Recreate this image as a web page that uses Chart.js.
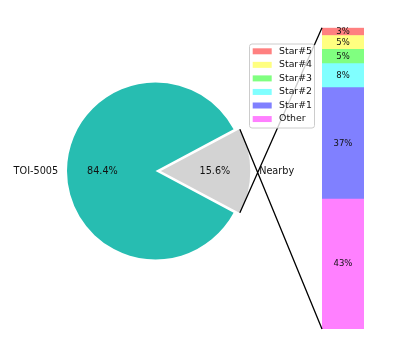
<!DOCTYPE html>
<html>
<head>
<meta charset="utf-8">
<script src="https://cdn.jsdelivr.net/npm/chart.js@4/dist/chart.umd.min.js"></script>
<style>
html,body{margin:0;padding:0;background:#fff;}
#wrap{position:relative;width:407px;height:343px;}
#wrap canvas{position:absolute;left:0;top:0;}
</style>
</head>
<body>
<div id="wrap">
  <canvas id="pie_chart" width="407" height="343"></canvas>
  <canvas id="bar_chart" width="407" height="343"></canvas>
</div>
<script>
// pie: the two slices
const pieLabels = ['TOI-5005', 'Nearby'];
const pieValues = [84.4, 15.6];
const pieColors = ['#27bdb1', '#d3d3d3'];

// bar: breakdown of the "Nearby" slice, bottom to top
const starLabels = ['Other', 'Star#1', 'Star#2', 'Star#3', 'Star#4', 'Star#5'];
const starValues = [43.1, 37.0, 8.0, 4.7, 4.6, 2.6];
const starColors = ['#ff80ff', '#8080ff', '#80ffff', '#80ff80', '#ffff80', '#ff8080'];

const FONT = "'DejaVu Sans', sans-serif";
let pie_chart = false;
let bar_chart = false;

// same shift that ArcElement applies for its offset
const arcShift = (arc) => {
  const circ = arc.endAngle - arc.startAngle;
  const off = (arc.options.offset || 0) / 4;
  return off * (2 - Math.sin(Math.min(Math.PI, circ)));
};

const pieLabelPlugin = {
  id: 'pieLabels',
  afterDatasetsDraw(chart) {
    const ctx = chart.ctx;
    const arcs = chart.getDatasetMeta(0).data;
    ctx.save();
    ctx.fillStyle = '#111';
    ctx.font = '9.7px ' + FONT;
    ctx.textBaseline = 'middle';
    arcs.forEach((arc, i) => {
      const p = arc.getProps(['x', 'y', 'startAngle', 'endAngle', 'outerRadius'], true);
      const mid = (p.startAngle + p.endAngle) / 2;
      const s = arcShift(arc);
      const cx = p.x + Math.cos(mid) * s;
      const cy = p.y + Math.sin(mid) * s;
      const r = p.outerRadius;
      ctx.textAlign = 'center';
      ctx.fillText(pieValues[i].toFixed(1) + '%', cx + Math.cos(mid) * r * 0.6, cy + Math.sin(mid) * r * 0.6);
      ctx.textAlign = Math.cos(mid) >= 0 ? 'left' : 'right';
      ctx.fillText(pieLabels[i], cx + Math.cos(mid) * r * 1.1, cy + Math.sin(mid) * r * 1.1);
    });
    ctx.restore();
  }
};

const barLabelPlugin = {
  id: 'barLabels',
  afterDatasetsDraw(chart) {
    const ctx = chart.ctx;
    ctx.save();
    ctx.fillStyle = '#111';
    ctx.font = '8.5px ' + FONT;
    ctx.textAlign = 'center';
    ctx.textBaseline = 'middle';
    chart.data.datasets.forEach((ds, i) => {
      const el = chart.getDatasetMeta(i).data[0];
      const p = el.getProps(['x', 'y', 'base'], true);
      ctx.fillText(Math.round(ds.data[0]) + '%', p.x, (p.y + p.base) / 2);
    });
    ctx.restore();
  }
};

// lines from the exploded slice to the bar, then the legend over them
const connectPlugin = {
  id: 'connect',
  afterDraw(chart) {
    const ctx = chart.ctx;
    const arc = pie_chart.getDatasetMeta(0).data[1];
    const a = arc.getProps(['x', 'y', 'startAngle', 'endAngle', 'outerRadius'], true);
    const mid = (a.startAngle + a.endAngle) / 2;
    const s = arcShift(arc);
    const cx = a.x + Math.cos(mid) * s;
    const cy = a.y + Math.sin(mid) * s;
    const r = a.outerRadius;
    const n = chart.data.datasets.length;
    const topEl = chart.getDatasetMeta(n - 1).data[0].getProps(['x', 'y', 'width'], true);
    const botEl = chart.getDatasetMeta(0).data[0].getProps(['x', 'base', 'width'], true);

    ctx.save();
    ctx.strokeStyle = '#000';
    ctx.lineWidth = 1.3;
    ctx.beginPath();
    ctx.moveTo(cx + Math.cos(a.startAngle) * r, cy + Math.sin(a.startAngle) * r);
    ctx.lineTo(botEl.x - botEl.width / 2, botEl.base);
    ctx.moveTo(cx + Math.cos(a.endAngle) * r, cy + Math.sin(a.endAngle) * r);
    ctx.lineTo(topEl.x - topEl.width / 2, topEl.y);
    ctx.stroke();

    // legend
    const bx = 249.5, by = 44, bw = 65, bh = 84;
    ctx.beginPath();
    ctx.roundRect(bx, by, bw, bh, 2.5);
    ctx.fillStyle = 'rgba(255,255,255,0.8)';
    ctx.fill();
    ctx.lineWidth = 1;
    ctx.strokeStyle = '#cccccc';
    ctx.stroke();
    ctx.font = '9.4px ' + FONT;
    ctx.textAlign = 'left';
    ctx.textBaseline = 'middle';
    for (let k = 0; k < n; k++) {
      const i = n - 1 - k;
      const ry = 51.3 + k * 13.55;
      ctx.fillStyle = starColors[i];
      ctx.fillRect(252.7, ry - 3, 19, 6);
      ctx.fillStyle = '#111';
      ctx.fillText(starLabels[i], 279, ry);
    }
    ctx.restore();
  }
};

const createPieChart = () => {
  const ctx = document.getElementById('pie_chart').getContext('2d');
  const nearbyFrac = pieValues[1] / (pieValues[0] + pieValues[1]);
  pie_chart = new Chart(ctx, {
    type: 'pie',
    data: {
      labels: pieLabels,
      datasets: [{
        data: pieValues,
        backgroundColor: pieColors,
        borderWidth: 0,
        offset: [0, 21.5],
        radius: 88.5,
        rotation: 90 + 180 * nearbyFrac
      }]
    },
    options: {
      responsive: false,
      animation: false,
      layout: {padding: {left: 55.5, right: 151.5, top: 71, bottom: 72}},
      plugins: {legend: {display: false}, tooltip: {enabled: false}}
    },
    plugins: [pieLabelPlugin]
  });
};

const createBarChart = () => {
  const ctx = document.getElementById('bar_chart').getContext('2d');
  const datasets = starLabels.map((label, i) => ({
    label: label,
    data: [starValues[i]],
    backgroundColor: starColors[i],
    borderWidth: 0,
    barPercentage: 1,
    categoryPercentage: 1
  }));
  bar_chart = new Chart(ctx, {
    type: 'bar',
    data: {labels: [''], datasets: datasets},
    options: {
      responsive: false,
      animation: false,
      layout: {padding: {left: 322, right: 43, top: 27.7, bottom: 14}},
      scales: {
        x: {display: false, stacked: true},
        y: {display: false, stacked: true, min: 0, max: 100}
      },
      plugins: {legend: {display: false}, tooltip: {enabled: false}}
    },
    plugins: [barLabelPlugin, connectPlugin]
  });
};

document.addEventListener('DOMContentLoaded', () => {
  createPieChart();
  createBarChart();
});
</script>
</body>
</html>
